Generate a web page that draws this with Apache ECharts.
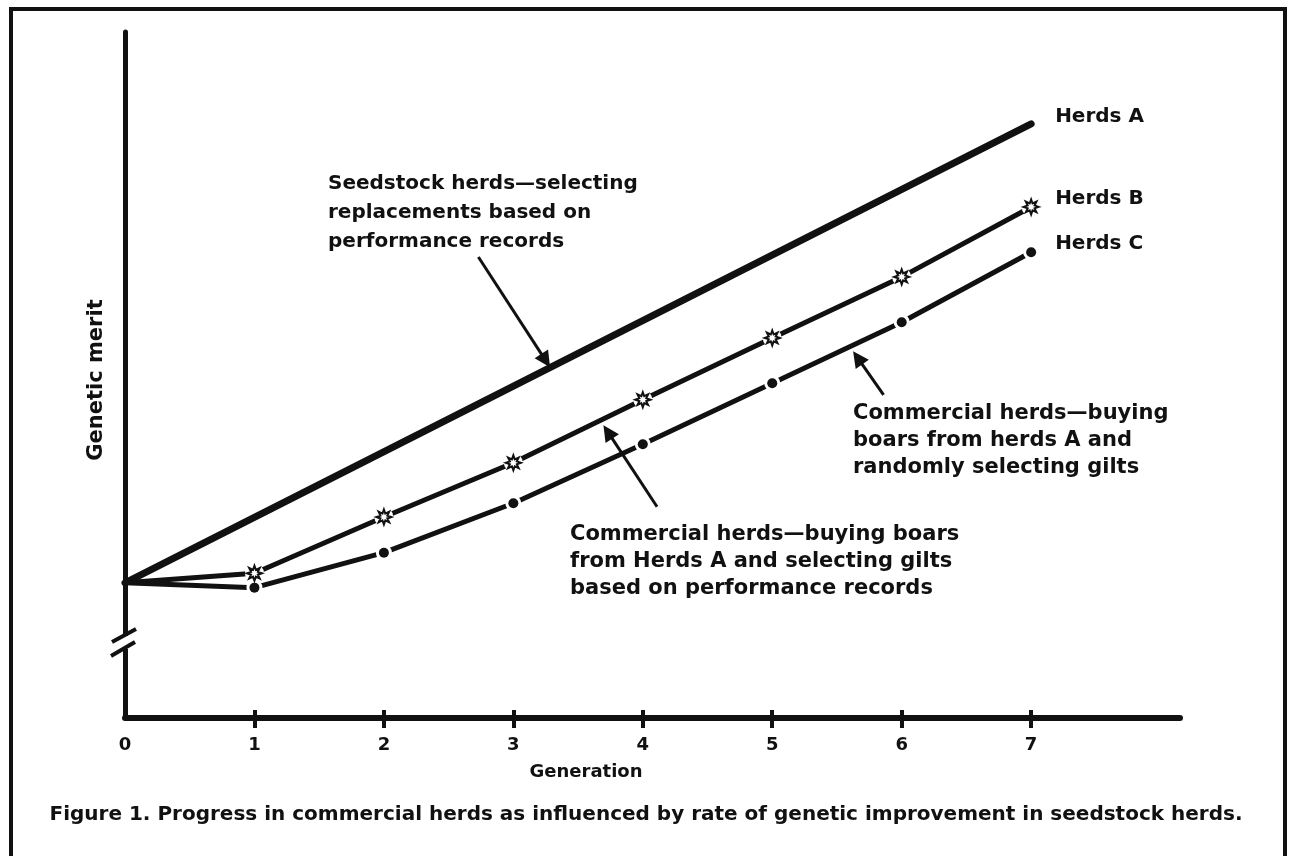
<!DOCTYPE html>
<html>
<head>
<meta charset="utf-8">
<title>Genetic merit by generation</title>
<script src="https://cdn.jsdelivr.net/npm/echarts@6/dist/echarts.min.js"></script>
<style>
  html, body { margin: 0; padding: 0; background: #fff; }
  #chart { width: 1291px; height: 856px; }
</style>
</head>
<body>
<div id="chart"></div>
<script>
// generations on the x axis
var generations = [0, 1, 2, 3, 4, 5, 6, 7];
var tickLabels = ['0', '1', '2', '3', '4', '5', '6', '7'];
// herds A is a straight line, only its two ends
var herdsAGen = [0, 7];
var herdsA = [19.7, 86.6];
var herdsB = [19.7, 21.1, 29.3, 37.2, 46.4, 55.4, 64.3, 74.5];
var herdsC = [19.7, 19.0, 24.1, 31.3, 39.9, 48.8, 57.7, 67.9];
// arrows: [tailGen, tailMerit, headGen, headMerit]
var arrowSeed = [2.73, 67.2, 3.25, 52.1];
var arrowB = [4.11, 30.8, 3.73, 41.7];
var arrowC = [5.86, 47.1, 5.66, 52.5];

var ink = '#111';
var fontFam = '"DejaVu Sans", sans-serif';
var star = 'path://M20,10 L14.62,11.91 L17.07,17.07 L11.91,14.62 L10,20 L8.09,14.62 L2.93,17.07 L5.38,11.91 L0,10 L5.38,8.09 L2.93,2.93 L8.09,5.38 L10,0 L11.91,5.38 L17.07,2.93 L14.62,8.09 Z';

function pairs(xs, ys) {
  var out = [];
  for (var i = 0; i < xs.length; i++) out.push([xs[i], ys[i]]);
  return out;
}
// white gap round each marker, none at the origin
function gapped(xs, ys) {
  var out = [];
  for (var i = 0; i < xs.length; i++) {
    var d = { value: [xs[i], ys[i]] };
    if (i === 0) d.symbol = 'none';
    out.push(d);
  }
  return out;
}
function arrow(a) {
  return [{ coord: [a[0], a[1]] }, { coord: [a[2], a[3]] }];
}

var chart = echarts.init(document.getElementById('chart'));
var labelFont = { color: ink, fontFamily: fontFam, fontWeight: 'bold' };

var option = {
  animation: false,
  backgroundColor: '#fff',
  grid: { left: 125, right: 111, top: 32, bottom: 138 },
  xAxis: [
    {
      type: 'value', min: 0, max: 8.15, interval: 1,
      splitLine: { show: false },
      axisLine: { lineStyle: { color: ink, width: 6 } },
      axisTick: { length: 10, lineStyle: { color: ink, width: 4 }, customValues: generations.slice(1) },
      axisLabel: Object.assign({
        margin: 18, fontSize: 18,
        customValues: generations,
        formatter: function (v) { return tickLabels[generations.indexOf(v)]; }
      }, labelFont)
    },
    {
      type: 'value', min: 0, max: 8.15, interval: 1, position: 'bottom',
      splitLine: { show: false },
      axisLine: { show: false },
      axisTick: { inside: true, length: 8, lineStyle: { color: ink, width: 4 }, customValues: generations.slice(1) },
      axisLabel: { show: false }
    }
  ],
  yAxis: {
    type: 'value', min: 0, max: 100,
    splitLine: { show: false },
    axisLine: { show: true, lineStyle: { color: ink, width: 5 } },
    axisTick: { show: false },
    axisLabel: { show: false }
  },
  series: [
    {
      name: 'Herds A', type: 'line', data: pairs(herdsAGen, herdsA),
      symbol: 'none',
      lineStyle: { color: ink, width: 7, cap: 'round' },
      endLabel: Object.assign({ show: true, formatter: '{a}', fontSize: 20, distance: 0, offset: [24, -7] }, labelFont),
      markLine: {
        silent: true,
        symbol: ['none', 'triangle'],
        symbolSize: 16,
        label: { show: false },
        lineStyle: { color: ink, width: 3, type: 'solid' },
        data: [arrow(arrowSeed), arrow(arrowB), arrow(arrowC)]
      }
    },
    {
      name: 'Herds B', type: 'line', data: gapped(generations, herdsB),
      symbol: 'circle', symbolSize: 19, showAllSymbol: true,
      itemStyle: { color: '#fff' },
      lineStyle: { color: ink, width: 5 },
      endLabel: Object.assign({ show: true, formatter: '{a}', fontSize: 20, distance: 0, offset: [24, -8] }, labelFont)
    },
    {
      name: 'Herds B points', type: 'scatter', data: pairs(generations.slice(1), herdsB.slice(1)),
      symbol: star, symbolSize: 15,
      itemStyle: { color: '#fff', borderColor: ink, borderWidth: 2, opacity: 1 },
      z: 5
    },
    {
      name: 'Herds C', type: 'line', data: gapped(generations, herdsC),
      symbol: 'circle', symbolSize: 16, showAllSymbol: true,
      itemStyle: { color: '#fff' },
      lineStyle: { color: ink, width: 5 },
      endLabel: Object.assign({ show: true, formatter: '{a}', fontSize: 20, distance: 0, offset: [24, -8] }, labelFont)
    },
    {
      name: 'Herds C points', type: 'scatter', data: pairs(generations.slice(1), herdsC.slice(1)),
      symbol: 'circle', symbolSize: 10,
      itemStyle: { color: ink, opacity: 1 },
      z: 5
    }
  ],
  graphic: [
    // frame
    { type: 'rect', shape: { x: 11, y: 9, width: 1274, height: 900 }, style: { fill: 'none', stroke: ink, lineWidth: 4 }, silent: true },
    // axis break
    { type: 'rect', shape: { x: 112, y: 636, width: 24, height: 13 }, style: { fill: '#fff' }, z: 100 },
    { type: 'line', shape: { x1: 112, y1: 642, x2: 136, y2: 629 }, style: { stroke: ink, lineWidth: 4 }, z: 101 },
    { type: 'line', shape: { x1: 111, y1: 656, x2: 135, y2: 642 }, style: { stroke: ink, lineWidth: 4 }, z: 101 },
    // annotations
    { type: 'text', style: { x: 328, y: 169, text: 'Seedstock herds\u2014selecting\nreplacements based on\nperformance records', font: 'bold 20px ' + fontFam, lineHeight: 29, fill: ink, textVerticalAlign: 'top' } },
    { type: 'text', style: { x: 570, y: 521, text: 'Commercial herds\u2014buying boars\nfrom Herds A and selecting gilts\nbased on performance records', font: 'bold 21px ' + fontFam, lineHeight: 27, fill: ink, textVerticalAlign: 'top' } },
    { type: 'text', style: { x: 853, y: 400, text: 'Commercial herds\u2014buying\nboars from herds A and\nrandomly selecting gilts', font: 'bold 21px ' + fontFam, lineHeight: 27, fill: ink, textVerticalAlign: 'top' } },
    // axis titles and caption
    { type: 'text', style: { x: 586, y: 772, text: 'Generation', font: 'bold 18px ' + fontFam, fill: ink, textAlign: 'center', textVerticalAlign: 'middle' } },
    { type: 'text', x: 97, y: 380, rotation: Math.PI / 2, style: { x: 0, y: 0, text: 'Genetic merit', font: 'bold 21px ' + fontFam, fill: ink, textAlign: 'center', textVerticalAlign: 'middle' } },
    { type: 'text', style: { x: 646, y: 815, text: 'Figure 1. Progress in commercial herds as influenced by rate of genetic improvement in seedstock herds.', font: 'bold 20px ' + fontFam, fill: ink, textAlign: 'center', textVerticalAlign: 'middle' } }
  ]
};

chart.setOption(option);
</script>
</body>
</html>
